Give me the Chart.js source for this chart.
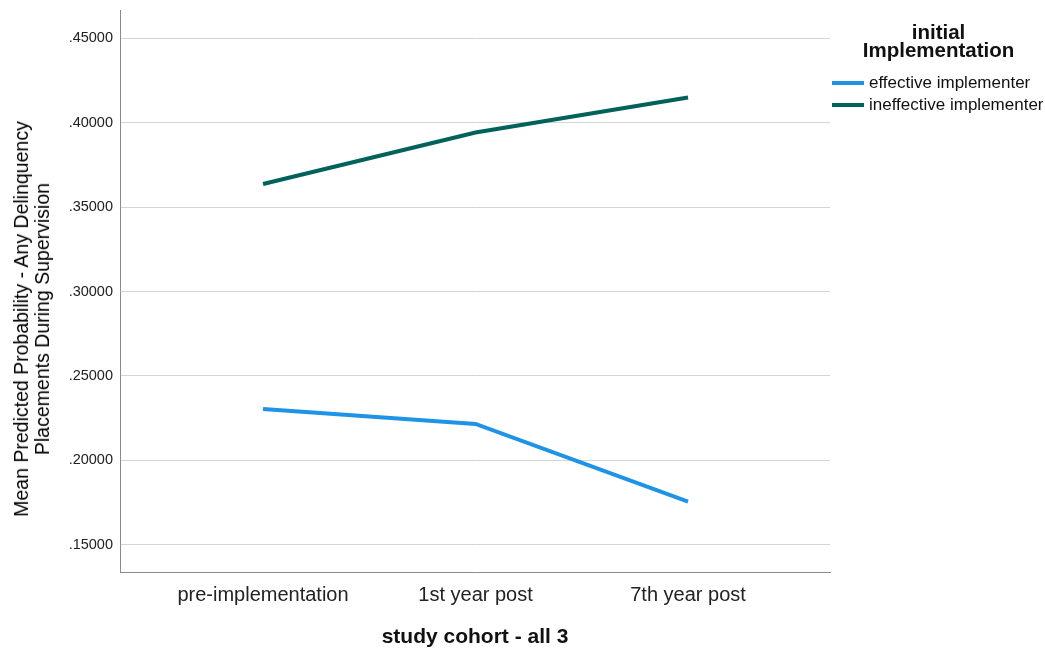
<!DOCTYPE html>
<html>
<head>
<meta charset="utf-8">
<script src="https://cdn.jsdelivr.net/npm/chart.js"></script>
<style>
  body { margin: 0; background: #fff; }
  #wrap { position: relative; width: 1045px; height: 650px; }
  #legend { position: absolute; left: 832px; top: 23px; width: 213px; font-family: "Liberation Sans", Arial, sans-serif; color: #111; }
  #legend .title { text-align: center; font-weight: bold; font-size: 20.5px; line-height: 18px; }
  #legend .item { display: flex; align-items: center; font-size: 17px; height: 22px; }
  #legend .swatch { width: 32px; height: 4px; margin-right: 5px; }
  #ytitle { position: absolute; left: 32px; top: 319px; width: 0; height: 0; }
  #ytitle div { position: absolute; transform: translate(-50%, -50%) rotate(-90deg); white-space: nowrap; text-align: center;
    font-family: "Liberation Sans", Arial, sans-serif; font-size: 19.5px; line-height: 21px; color: #000; }
</style>
</head>
<body>
<div id="wrap">
  <canvas id="chart" width="1045" height="650"></canvas>
  <div id="ytitle"><div>Mean Predicted Probability - Any Delinquency<br>Placements During Supervision</div></div>
  <div id="legend"></div>
</div>
<script>
// categories and series
const cohorts = ['pre-implementation', '1st year post', '7th year post'];
const effective = [0.2305, 0.2216, 0.1757];
const ineffective = [0.3636, 0.3941, 0.4148];
const yTicks = [0.15, 0.20, 0.25, 0.30, 0.35, 0.40, 0.45];

const seriesNames = ['effective implementer', 'ineffective implementer'];
const seriesColors = ['#1f93e6', '#00625b'];

const font = '"Liberation Sans", Arial, sans-serif';

function toPoints(values) {
  return values.map((v, i) => ({ x: i, y: v }));
}

const ctx = document.getElementById('chart').getContext('2d');
new Chart(ctx, {
  type: 'line',
  data: {
    datasets: [
      { label: seriesNames[0], data: toPoints(effective), borderColor: seriesColors[0], backgroundColor: seriesColors[0], borderWidth: 4, pointRadius: 0, tension: 0 },
      { label: seriesNames[1], data: toPoints(ineffective), borderColor: seriesColors[1], backgroundColor: seriesColors[1], borderWidth: 4, pointRadius: 0, tension: 0 }
    ]
  },
  options: {
    responsive: false,
    animation: false,
    layout: { padding: { left: 0, right: 215, top: 10, bottom: 0 } },
    plugins: { legend: { display: false }, tooltip: { enabled: false } },
    scales: {
      x: {
        type: 'linear',
        min: -0.673,
        max: 2.668,
        afterBuildTicks: axis => { axis.ticks = cohorts.map((c, i) => ({ value: i })); },
        afterFit: axis => { axis.height = 78; axis.paddingLeft = 0; axis.paddingRight = 0; },
        ticks: {
          callback: v => cohorts[v],
          color: '#222',
          font: { family: font, size: 20 },
          padding: 11,
          maxRotation: 0,
          autoSkip: false
        },
        grid: { display: false, drawTicks: false },
        border: { display: true, color: '#8a8a8a', width: 1 },
        title: {
          display: true,
          text: 'study cohort - all 3',
          color: '#111',
          font: { family: font, size: 21, weight: 'bold' },
          padding: { top: 4, bottom: 0 }
        }
      },
      y: {
        min: 0.134,
        max: 0.4666,
        afterBuildTicks: axis => { axis.ticks = yTicks.map(v => ({ value: v })); },
        afterFit: axis => { axis.width = 120; axis.paddingTop = 0; axis.paddingBottom = 0; },
        ticks: {
          callback: v => v.toFixed(5).replace(/^0/, ''),
          color: '#222',
          font: { family: font, size: 14.5 },
          padding: 7
        },
        grid: { color: '#d4d4d4', lineWidth: 1, drawTicks: false },
        border: { display: true, color: '#8a8a8a', width: 1 }
      }
    }
  }
});

// legend as html
const legend = document.getElementById('legend');
legend.innerHTML = '<div class="title">initial<br>Implementation</div><div style="height:13px"></div>' +
  seriesNames.map((n, i) =>
    `<div class="item"><span class="swatch" style="background:${seriesColors[i]}"></span>${n}</div>`
  ).join('');
</script>
</body>
</html>
